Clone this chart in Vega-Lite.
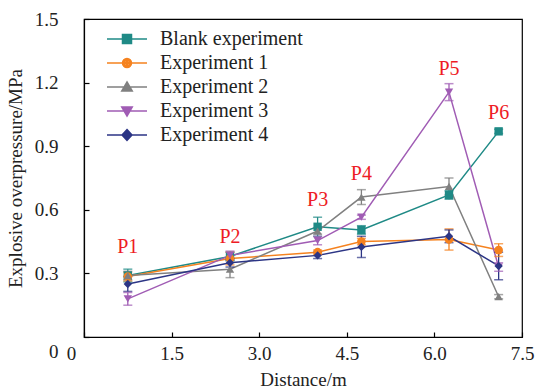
{
  "$schema": "https://vega.github.io/schema/vega-lite/v6.json",
  "width": 438,
  "height": 318,
  "autosize": "none",
  "padding": {"left": 84, "top": 19, "right": 15, "bottom": 55},
  "background": "white",
  "config": {
    "font": "Liberation Serif",
    "view": {"stroke": "black", "strokeWidth": 1.2},
    "axis": {
      "labelFont": "Liberation Serif",
      "titleFont": "Liberation Serif",
      "labelFontSize": 19,
      "titleFontSize": 19,
      "titleFontWeight": "normal",
      "labelColor": "#222",
      "titleColor": "#222",
      "domainColor": "black",
      "domainWidth": 1.2,
      "tickColor": "black",
      "tickWidth": 1.2,
      "grid": false
    }
  },
  "datasets": {
    "pts": [
      {"s": "Blank experiment", "x": 0.75, "y": 0.29, "lo": 0.26, "hi": 0.32},
      {"s": "Blank experiment", "x": 2.5, "y": 0.38, "lo": 0.36, "hi": 0.4},
      {"s": "Blank experiment", "x": 4.0, "y": 0.52, "lo": 0.475, "hi": 0.565},
      {"s": "Blank experiment", "x": 4.75, "y": 0.505, "lo": 0.485, "hi": 0.525},
      {"s": "Blank experiment", "x": 6.25, "y": 0.67, "lo": 0.65, "hi": 0.69},
      {"s": "Blank experiment", "x": 7.1, "y": 0.97, "lo": 0.96, "hi": 0.98},
      {"s": "Experiment 1", "x": 0.75, "y": 0.285, "lo": 0.265, "hi": 0.305},
      {"s": "Experiment 1", "x": 2.5, "y": 0.37, "lo": 0.34, "hi": 0.4},
      {"s": "Experiment 1", "x": 4.0, "y": 0.4, "lo": 0.39, "hi": 0.41},
      {"s": "Experiment 1", "x": 4.75, "y": 0.45, "lo": 0.435, "hi": 0.465},
      {"s": "Experiment 1", "x": 6.25, "y": 0.46, "lo": 0.41, "hi": 0.51},
      {"s": "Experiment 1", "x": 7.1, "y": 0.41, "lo": 0.38, "hi": 0.44},
      {"s": "Experiment 2", "x": 0.75, "y": 0.29, "lo": 0.27, "hi": 0.31},
      {"s": "Experiment 2", "x": 2.5, "y": 0.32, "lo": 0.28, "hi": 0.36},
      {"s": "Experiment 2", "x": 4.0, "y": 0.5, "lo": 0.485, "hi": 0.515},
      {"s": "Experiment 2", "x": 4.75, "y": 0.66, "lo": 0.625, "hi": 0.695},
      {"s": "Experiment 2", "x": 6.25, "y": 0.71, "lo": 0.67, "hi": 0.75},
      {"s": "Experiment 2", "x": 7.1, "y": 0.19, "lo": 0.18, "hi": 0.2},
      {"s": "Experiment 3", "x": 0.75, "y": 0.18, "lo": 0.15, "hi": 0.21},
      {"s": "Experiment 3", "x": 2.5, "y": 0.385, "lo": 0.365, "hi": 0.405},
      {"s": "Experiment 3", "x": 4.0, "y": 0.455, "lo": 0.435, "hi": 0.475},
      {"s": "Experiment 3", "x": 4.75, "y": 0.565, "lo": 0.555, "hi": 0.575},
      {"s": "Experiment 3", "x": 6.25, "y": 1.155, "lo": 1.115, "hi": 1.195},
      {"s": "Experiment 3", "x": 7.1, "y": 0.33, "lo": 0.31, "hi": 0.35},
      {"s": "Experiment 4", "x": 0.75, "y": 0.25, "lo": 0.215, "hi": 0.285},
      {"s": "Experiment 4", "x": 2.5, "y": 0.35, "lo": 0.33, "hi": 0.37},
      {"s": "Experiment 4", "x": 4.0, "y": 0.385, "lo": 0.37, "hi": 0.4},
      {"s": "Experiment 4", "x": 4.75, "y": 0.425, "lo": 0.375, "hi": 0.475},
      {"s": "Experiment 4", "x": 6.25, "y": 0.475, "lo": 0.445, "hi": 0.505},
      {"s": "Experiment 4", "x": 7.1, "y": 0.335, "lo": 0.27, "hi": 0.4}
    ],
    "labels": [
      {"label": "P1", "x": 0.75, "y": 0.425},
      {"label": "P2", "x": 2.5, "y": 0.47},
      {"label": "P3", "x": 4.0, "y": 0.647},
      {"label": "P4", "x": 4.75, "y": 0.77},
      {"label": "P5", "x": 6.25, "y": 1.264},
      {"label": "P6", "x": 7.1, "y": 1.055}
    ]
  },
  "data": {"name": "pts"},
  "encoding": {
    "x": {
      "field": "x", "type": "quantitative",
      "scale": {"domain": [0, 7.5], "nice": false, "zero": false},
      "axis": {
        "title": "Distance/m",
        "values": [0, 1.5, 3, 4.5, 6, 7.5],
        "labelExpr": "datum.value == 0 ? '0' : format(datum.value, '.1f')",
        "labelFlush": false,
        "tickSize": -5,
        "labelPadding": 12,
        "labelOffset": {"condition": {"test": "datum.value == 0", "value": -13}, "value": 0},
        "titlePadding": 7
      }
    },
    "y": {
      "field": "y", "type": "quantitative",
      "scale": {"domain": [0, 1.5], "nice": false, "zero": false},
      "axis": {
        "title": "Explosive overpressure/MPa",
        "values": [0, 0.3, 0.6, 0.9, 1.2, 1.5],
        "labelExpr": "datum.value == 0 ? '0' : format(datum.value, '.1f')",
        "labelFlush": false,
        "tickSize": -5,
        "labelPadding": 31,
        "labelOffset": {"condition": {"test": "datum.value == 0", "value": 14}, "value": 0},
        "titlePadding": 9
      }
    }
  },
  "layer": [
    {
      "mark": {"type": "line", "strokeWidth": 1.5},
      "encoding": {"stroke": {"field": "s", "type": "nominal", "scale": {"range": ["#1f8a86", "#f5821f", "#808080", "#a05cb4", "#2c3585"]}, "legend": null}}
    },
    {
      "mark": {"type": "rule", "strokeWidth": 1.3},
      "encoding": {
        "y": {"field": "lo", "type": "quantitative"},
        "y2": {"field": "hi"},
        "stroke": {"field": "s", "type": "nominal", "legend": null}
      }
    },
    {
      "mark": {"type": "tick", "orient": "horizontal", "size": 9, "thickness": 1.5},
      "encoding": {
        "y": {"field": "lo", "type": "quantitative"},
        "fill": {"field": "s", "type": "nominal", "scale": {"range": ["#1f8a86", "#f5821f", "#808080", "#a05cb4", "#2c3585"]}, "legend": null}
      }
    },
    {
      "mark": {"type": "tick", "orient": "horizontal", "size": 9, "thickness": 1.5},
      "encoding": {
        "y": {"field": "hi", "type": "quantitative"},
        "fill": {"field": "s", "type": "nominal", "legend": null}
      }
    },
    {"transform": [{"filter": "datum.s === 'Blank experiment'"}], "mark": {"type": "point", "filled": true, "opacity": 1, "size": 70, "shape": "square"}, "encoding": {"fill": {"field": "s", "type": "nominal", "legend": null}}},
    {"transform": [{"filter": "datum.s === 'Experiment 1'"}], "mark": {"type": "point", "filled": true, "opacity": 1, "size": 75, "shape": "circle"}, "encoding": {"fill": {"field": "s", "type": "nominal", "legend": null}}},
    {"transform": [{"filter": "datum.s === 'Experiment 2'"}], "mark": {"type": "point", "filled": true, "opacity": 1, "size": 70, "shape": "triangle-up"}, "encoding": {"fill": {"field": "s", "type": "nominal", "legend": null}}},
    {"transform": [{"filter": "datum.s === 'Experiment 3'"}], "mark": {"type": "point", "filled": true, "opacity": 1, "size": 70, "shape": "triangle-down"}, "encoding": {"fill": {"field": "s", "type": "nominal", "legend": null}}},
    {"transform": [{"filter": "datum.s === 'Experiment 4'"}], "mark": {"type": "point", "filled": true, "opacity": 1, "size": 70, "shape": "diamond"}, "encoding": {"fill": {"field": "s", "type": "nominal", "legend": null}}},
    {
      "mark": {"type": "point", "filled": false, "opacity": 0, "size": 100, "strokeWidth": 1.5},
      "encoding": {
        "color": {
          "field": "s", "type": "nominal",
          "scale": {
            "domain": ["Blank experiment", "Experiment 1", "Experiment 2", "Experiment 3", "Experiment 4"],
            "range": ["#1f8a86", "#f5821f", "#808080", "#a05cb4", "#2c3585"]
          },
          "legend": {
            "title": null,
            "orient": "none",
            "legendX": 33,
            "legendY": 10,
            "labelFont": "Liberation Serif",
            "labelFontSize": 20,
            "labelColor": "#222",
            "labelOffset": 23,
            "rowPadding": 4,
            "padding": 0,
            "symbolSize": 100,
            "symbolOpacity": 1,
            "symbolStrokeWidth": 1.5
          }
        },
        "shape": {
          "field": "s", "type": "nominal",
          "scale": {
            "domain": ["Blank experiment", "Experiment 1", "Experiment 2", "Experiment 3", "Experiment 4"],
            "range": [
              "M-4,0H4M-0.9,-0.9H0.9V0.9H-0.9ZM-0.6,-0.6H0.6V0.6H-0.6ZM-0.3,-0.3H0.3V0.3H-0.3ZM-0.05,-0.05H0.05V0.05H-0.05Z",
              "M-4,0H4M0.9,0A0.9,0.9,0,1,1,-0.9,0A0.9,0.9,0,1,1,0.9,0ZM0.6,0A0.6,0.6,0,1,1,-0.6,0A0.6,0.6,0,1,1,0.6,0ZM0.3,0A0.3,0.3,0,1,1,-0.3,0A0.3,0.3,0,1,1,0.3,0Z",
              "M-4,0H4M0,-1L1.05,0.8H-1.05ZM0,-0.52L0.63,0.56H-0.63ZM0,-0.1L0.26,0.35H-0.26Z",
              "M-4,0H4M0,1L1.05,-0.8H-1.05ZM0,0.52L0.63,-0.56H-0.63ZM0,0.1L0.26,-0.35H-0.26Z",
              "M-4,0H4M0,-1.1L1,0L0,1.1L-1,0ZM0,-0.7L0.64,0L0,0.7L-0.64,0ZM0,-0.3L0.27,0L0,0.3L-0.27,0Z"
            ]
          },
          "legend": {
            "title": null,
            "orient": "none",
            "legendX": 33,
            "legendY": 10,
            "labelFont": "Liberation Serif",
            "labelFontSize": 20,
            "labelColor": "#222",
            "labelOffset": 23,
            "rowPadding": 4,
            "padding": 0,
            "symbolSize": 100,
            "symbolOpacity": 1,
            "symbolStrokeWidth": 1.5
          }
        }
      }
    },
    {
      "data": {"name": "labels"},
      "mark": {"type": "text", "font": "Liberation Serif", "fontSize": 20, "baseline": "middle", "align": "center"},
      "encoding": {
        "x": {"field": "x", "type": "quantitative"},
        "y": {"field": "y", "type": "quantitative"},
        "text": {"field": "label"},
        "color": {"value": "#ee1c25"}
      }
    }
  ]
}
